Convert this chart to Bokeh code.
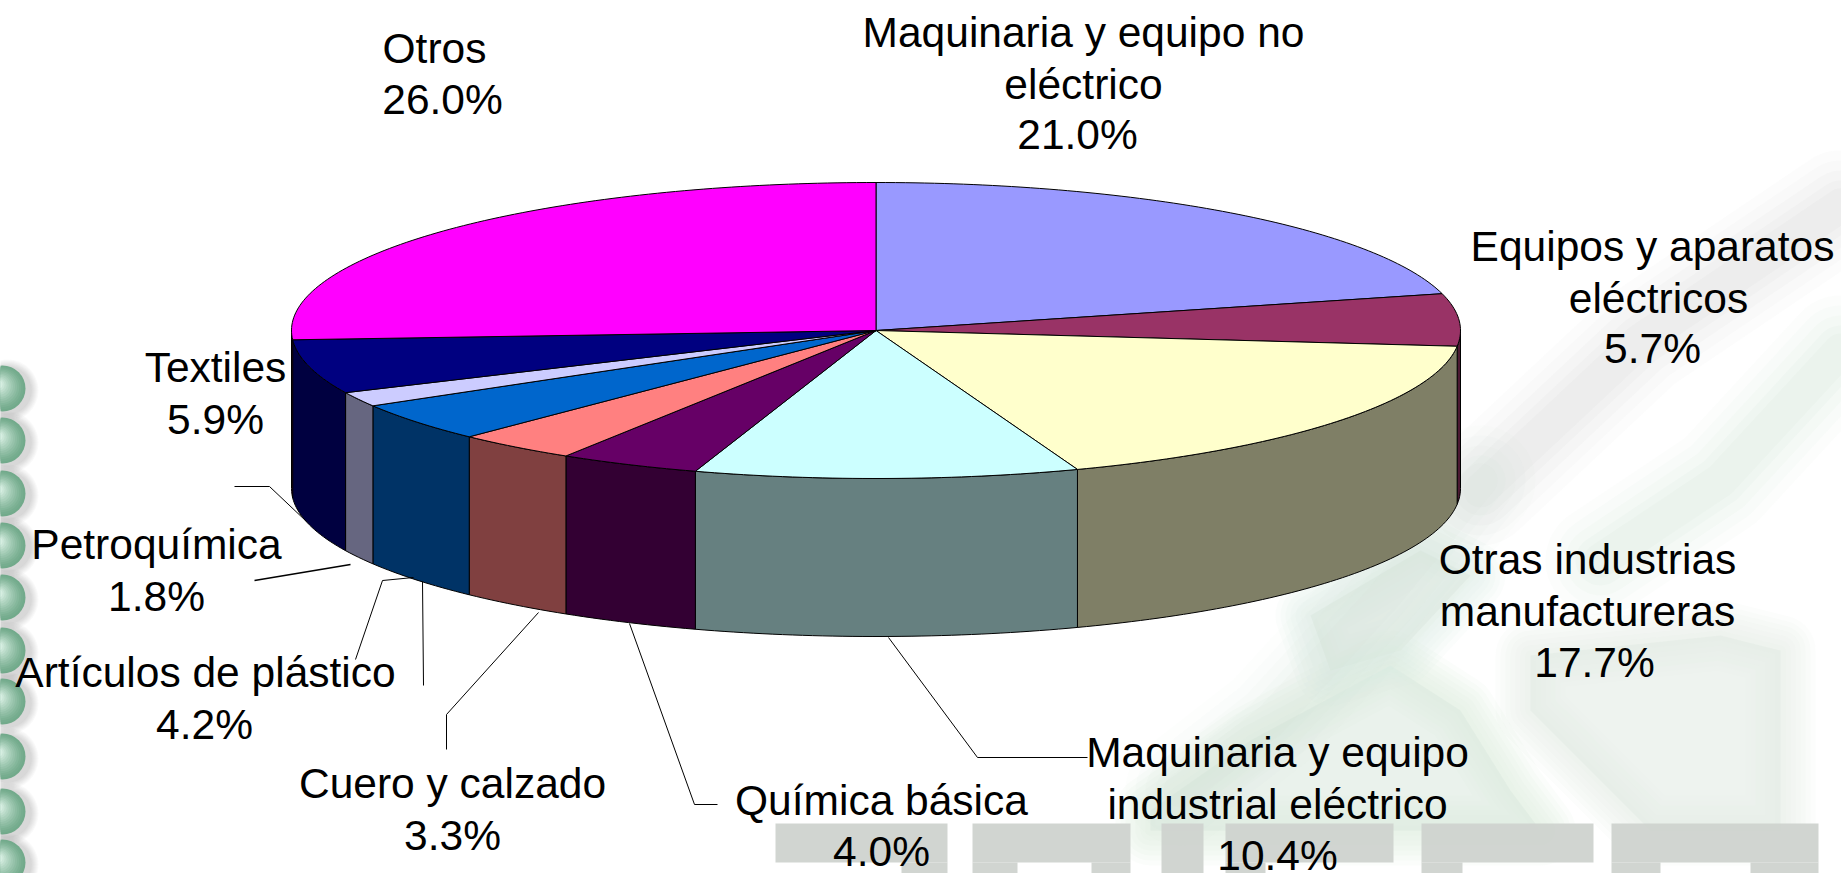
import math
from bokeh.plotting import figure
from bokeh.models import Range1d, ColumnDataSource
from bokeh.core.properties import value
from bokeh.embed import file_html
from bokeh.resources import INLINE

categories = ["Maquinaria y equipo no eléctrico", "Equipos y aparatos eléctricos",
              "Otras industrias manufactureras", "Maquinaria y equipo industrial eléctrico",
              "Química básica", "Cuero y calzado", "Artículos de plástico",
              "Petroquímica", "Textiles", "Otros"]
shares = [21.0, 5.7, 17.7, 10.4, 4.0, 3.3, 4.2, 1.8, 5.9, 26.0]
# sweep of each slice as measured on the picture (the printed labels are rounded)
sweeps = [21.0, 5.7, 17.7, 10.6, 3.9, 3.35, 4.25, 1.6, 5.9, 26.0]
top_colors = ["#9999FF", "#993366", "#FFFFCC", "#CCFFFF", "#660066",
              "#FF8080", "#0066CC", "#CCCCFF", "#000080", "#FF00FF"]
side_colors = ["#4D4D80", "#4C1A33", "#7F7F66", "#668080", "#330033",
               "#804040", "#003366", "#666680", "#000040", "#800080"]
label_lines = [["Maquinaria y equipo no", "eléctrico"], ["Equipos y aparatos", "eléctricos"],
               ["Otras industrias", "manufactureras"], ["Maquinaria y equipo", "industrial eléctrico"],
               ["Química básica"], ["Cuero y calzado"], ["Artículos de plástico"],
               ["Petroquímica"], ["Textiles"], ["Otros"]]
label_x = [[1083, 1083, 1077], [1652, 1658, 1652], [1587, 1587, 1594], [1277, 1277, 1277],
           [881, 881], [452, 452], [205, 204], [156, 156], [215, 215], [434, 442]]
label_y = [[32, 84, 134], [246, 298, 348], [559, 611, 662], [752, 804, 855],
           [800, 851], [783, 835], [672, 724], [544, 596], [367, 419], [48, 99]]
leaders = [[(234, 486), (269, 486), (306, 521)], [(254, 580), (350, 564)],
           [(355, 659), (382, 580), (413, 577)], [(422, 581), (423, 685)],
           [(538, 612), (446, 714), (446, 749)], [(629, 623), (694, 804), (717, 804)],
           [(888, 637), (977, 757), (1087, 757)]]

CX, CY, RX, RY, DEPTH = 875.5, 330.0, 584.5, 148.0, 158.0


def rim(t):
    return CX + RX * math.sin(t), CY - RY * math.cos(t)


p = figure(width=1841, height=873, output_backend="svg", toolbar_location=None,
           x_range=Range1d(0, 1841), y_range=Range1d(873, 0),
           min_border=0, outline_line_color=None, background_fill_color="white")
p.axis.visible = False
p.grid.visible = False

# --- background artwork: pale watermark areas with softened edges
areas = [
    ([1150, 1250, 1390, 1460, 1510, 1540, 1150], [810, 740, 665, 710, 790, 830, 830], "#dce9df"),
    ([1530, 1720, 1780, 1780, 1650, 1530], [655, 635, 650, 830, 830, 710], "#e2ebe5"),
    ([1310, 1420, 1470, 1400, 1330], [615, 550, 575, 650, 670], "#deeae1"),
]
for xs, ys, col in areas:
    for w in (70, 60, 50, 40, 30, 20, 10):
        p.patch(xs, ys, fill_color=None, line_color=col, line_width=w, line_alpha=.11, line_join="round")
    p.patch(xs, ys, fill_color=col, fill_alpha=.6, line_color=None)

strokes = [
    ([(1840, 205), (1640, 340), (1480, 490)], "#c9cdc9"),
    ([(1840, 350), (1720, 480), (1600, 560)], "#c3dcc6"),
    ([(1480, 480), (1380, 600), (1270, 720), (1180, 790)], "#d2e2d6"),
]
for pts, col in strokes:
    xs = [a for a, _ in pts]
    ys = [b for _, b in pts]
    for w, al in [(110, .05), (90, .06), (70, .07), (50, .08), (34, .09)]:
        p.line(xs, ys, line_color=col, line_width=w, line_alpha=al, line_cap="round", line_join="round")

# grey block letters at the foot of the page
for l, r, t, b in [(775, 947, 823, 862), (901, 947, 862, 873), (972, 1130, 823, 862),
                   (972, 1017, 862, 873), (1091, 1130, 862, 873), (1161, 1203, 823, 873),
                   (1225, 1393, 823, 862), (1225, 1265, 862, 873), (1421, 1593, 823, 862),
                   (1421, 1462, 862, 873), (1611, 1818, 823, 862), (1611, 1660, 862, 873),
                   (1750, 1818, 862, 873)]:
    p.quad(left=l, right=r, top=t, bottom=b, fill_color="#cfd3cf", fill_alpha=.95, line_color=None)

# left-hand beads: stacked discs give a soft shaded sphere
bead_y = [388, 440, 493, 545, 597, 650, 701, 756, 811, 862]
for by in bead_y:
    for k in range(8):
        p.scatter([7], [by + 2], size=2 * (31 - k), marker="circle", fill_color="#606060",
                  fill_alpha=.03, line_color=None)
    dark, light = (0x72, 0xaa, 0x8b), (0xd6, 0xee, 0xe1)
    for k in range(12):
        f = k / 11
        col = "#%02x%02x%02x" % tuple(round(d + (l - d) * f ** 1.3) for d, l in zip(dark, light))
        p.scatter([2 - 4 * f], [by - 4 * f], size=2 * (23 - 19 * f), marker="circle",
                  fill_color=col, line_color=None)

# --- pie
starts, ends, acc = [], [], 0.0
for s in sweeps:
    starts.append(acc / 100 * 2 * math.pi)
    acc += s
    ends.append(acc / 100 * 2 * math.pi)

side_x, side_y, side_c = [], [], []
for a, b, col in zip(starts, ends, side_colors):
    lo, hi = max(a, math.pi / 2), min(b, 3 * math.pi / 2)
    if lo >= hi:
        continue
    n = max(2, int((hi - lo) * 60))
    arc = [rim(lo + (hi - lo) * i / n) for i in range(n + 1)]
    side_x.append([q[0] for q in arc] + [q[0] for q in reversed(arc)])
    side_y.append([q[1] for q in arc] + [q[1] + DEPTH for q in reversed(arc)])
    side_c.append(col)
p.patches(side_x, side_y, fill_color=side_c, line_color="black", line_width=1)

top_x, top_y = [], []
for a, b in zip(starts, ends):
    n = max(2, int((b - a) * 60))
    arc = [rim(a + (b - a) * i / n) for i in range(n + 1)]
    top_x.append([CX] + [q[0] for q in arc])
    top_y.append([CY] + [q[1] for q in arc])
p.patches(top_x, top_y, fill_color=top_colors, line_color="black", line_width=1)

# --- leader lines
for i, seg in enumerate(leaders):
    p.line([a for a, _ in seg], [b for _, b in seg], line_color="black", line_width=1.6 if i == 1 else 1)

# --- labels
tx, ty, tt = [], [], []
for lines, share, xs, ys in zip(label_lines, shares, label_x, label_y):
    for text, x, y in zip(lines + [f"{share:.1f}%"], xs, ys):
        tx.append(x); ty.append(y); tt.append(text)
p.text(x="x", y="y", text="t", source=ColumnDataSource(dict(x=tx, y=ty, t=tt)),
       text_font=value("Liberation Sans"), text_font_size="42.5px", text_color="black",
       text_align="center", text_baseline="middle")

open("out.html", "w").write(file_html(p, INLINE))
